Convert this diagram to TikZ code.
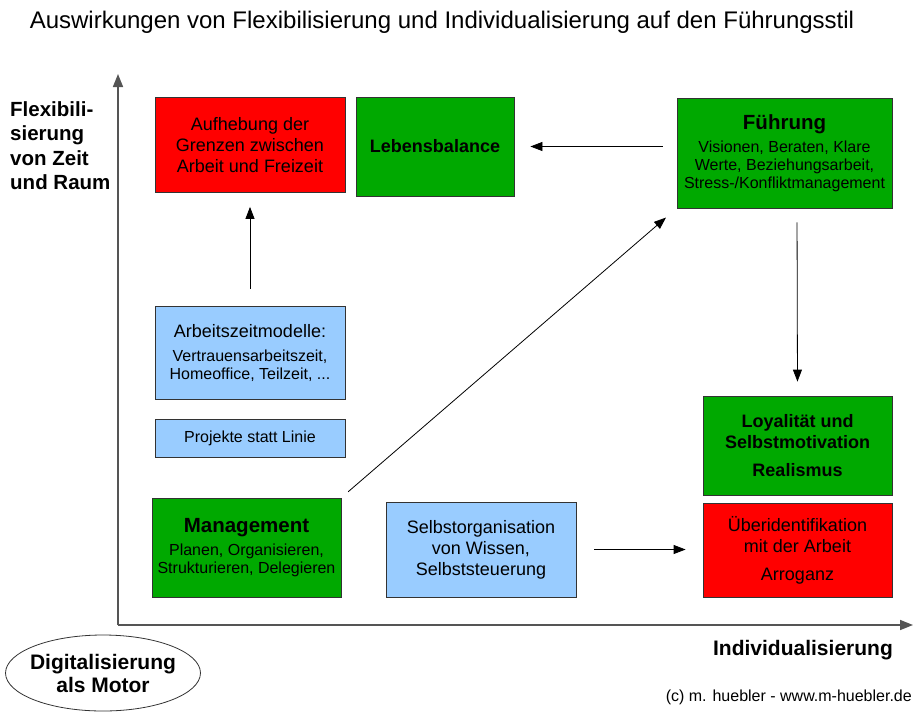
\documentclass[tikz,border=0pt]{standalone}
\usepackage{fontspec}
\setmainfont{Liberation Sans}
\usetikzlibrary{arrows.meta,shapes.geometric}
\definecolor{cred}{HTML}{FF0000}
\definecolor{cgreen}{HTML}{00A900}
\definecolor{cblue}{HTML}{99CCFF}
\definecolor{axisgray}{HTML}{555555}
\tikzset{
  box/.style={draw=black!80, line width=0.8pt, align=center, inner sep=2pt},
  conn/.style={draw=black, line width=0.8pt, -{Triangle[length=12pt,width=9pt]}},
  axis/.style={draw=axisgray, line width=1.6pt, -{Triangle[length=13pt,width=10pt]}, draw=axisgray},
  lbl/.style={inner sep=0pt, font=\fontsize{20.5}{24.5}\selectfont\bfseries}
}
\begin{document}
\begin{tikzpicture}[x=1pt,y=-1pt]
\useasboundingbox (0,0) rectangle (920,718);
% title
\node[inner sep=0pt, font=\fontsize{24}{28}\selectfont] (title) at (442,22) {Auswirkungen von Flexibilisierung und Individualisierung auf den Führungsstil};
% axes
\coordinate (o) at (118,625);
\coordinate (ytop) at (118,74);
\coordinate (xend) at (913,625);
\draw[axis] (o) -- (ytop);
\draw[axis] (o) -- (xend);
% axis labels
\node[lbl, anchor=north west, align=left] (ylab) at (10,101) {Flexibili-\\sierung\\von Zeit\\und Raum};
\node[lbl, anchor=east, font=\fontsize{21}{25}\selectfont\bfseries] (xlab) at (893,650) {Individualisierung};
% boxes
\node[box, fill=cred, minimum width=190pt, minimum height=95pt, font=\fontsize{18}{21}\selectfont] (auf) at (250,145) {Aufhebung der\\Grenzen zwischen\\Arbeit und Freizeit};
\node[box, fill=cgreen, minimum width=158pt, minimum height=99pt, font=\fontsize{18}{21}\selectfont\bfseries] (leb) at (435,146.5) {Lebensbalance};
\node[box, fill=cgreen, minimum width=215pt, minimum height=110pt, font=\fontsize{16}{18}\selectfont] (fue) at (784.5,153) {{\fontsize{20.5}{22}\selectfont\bfseries Führung}\\[5pt]Visionen, Beraten, Klare\\Werte, Beziehungsarbeit,\\Stress-/Konfliktmanagement};
\node[box, fill=cblue, minimum width=190pt, minimum height=93pt, font=\fontsize{16}{18}\selectfont] (arb) at (250,352.5) {{\fontsize{18}{20}\selectfont Arbeitszeitmodelle:}\\[6pt]Vertrauensarbeitszeit,\\Homeoffice, Teilzeit, ...};
\node[box, fill=cblue, minimum width=190pt, minimum height=38pt, font=\fontsize{16}{18}\selectfont] (pro) at (250,438) {Projekte statt Linie};
\node[box, fill=cgreen, minimum width=189pt, minimum height=99pt, font=\fontsize{16}{18}\selectfont] (man) at (246.5,547.5) {{\fontsize{20.5}{22}\selectfont\bfseries Management}\\[5pt]Planen, Organisieren,\\Strukturieren, Delegieren};
\node[box, fill=cblue, minimum width=190pt, minimum height=95pt, font=\fontsize{18}{21}\selectfont] (sel) at (481,549.5) {Selbstorganisation\\von Wissen,\\Selbststeuerung};
\node[box, fill=cgreen, minimum width=189pt, minimum height=99pt, font=\fontsize{18}{21}\selectfont\bfseries] (loy) at (797.5,445.5) {Loyalität und\\Selbstmotivation\\[7pt]Realismus};
\node[box, fill=cred, minimum width=189pt, minimum height=94pt, font=\fontsize{18}{21}\selectfont] (ueb) at (797.5,550) {Überidentifikation\\mit der Arbeit\\[7pt]Arroganz};
% ellipse
\node[ellipse, draw=black!80, line width=0.8pt, minimum width=192pt, minimum height=76pt, inner xsep=-4pt, inner ysep=0pt, align=center, font=\fontsize{21}{23}\selectfont\bfseries] (dig) at (103,673) {Digitalisierung\\als Motor};
% copyright
\node[inner sep=0pt, anchor=east, font=\fontsize{16}{18}\selectfont] (copy) at (912,697) {(c) m. huebler - www.m-huebler.de};
% connectors
\draw[conn, shorten <=14pt, shorten >=16pt] (leb.east -| fue.west) -- (leb.east);
\draw[conn, shorten <=17pt, shorten >=14pt] (arb.north) -- (auf.south);
\draw[conn, shorten <=9pt, shorten >=14pt] (man.north east) -- (fue.south west);
\draw[conn, shorten <=14pt, shorten >=14pt] (fue.south -| 797,0) -- (loy.north);
\draw[conn, shorten <=18pt, shorten >=17pt] (sel.east) -- (ueb.west |- sel.east);
\end{tikzpicture}
\end{document}
